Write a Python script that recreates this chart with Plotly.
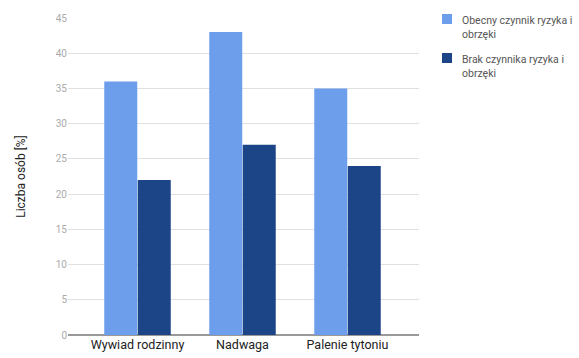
import plotly.graph_objects as go

categories = ["Wywiad rodzinny", "Nadwaga", "Palenie tytoniu"]
present = [36, 43, 35]
absent = [22, 27, 24]
series_names = ["Obecny czynnik ryzyka i<br>obrzęki", "Brak czynnika ryzyka i<br>obrzęki"]
series_colors = ["#6d9eeb", "#1c4587"]
y_ticks = [0, 5, 10, 15, 20, 25, 30, 35, 40, 45]

W, H = 579, 358
L, R, T, B = 68, 160, 18, 23
plot_w, plot_h = W - L - R, H - T - B
FONT = "Roboto"


def px_x(p):
    return (p - L) / plot_w


def px_y(p):
    return (H - B - p) / plot_h


xpos = list(range(len(categories)))

fig = go.Figure()
for vals, name, color in zip([present, absent], series_names, series_colors):
    fig.add_trace(go.Bar(x=xpos, y=vals, name=name, marker_color=color,
                         marker_line_width=0, showlegend=False))

# legend drawn as swatches + labels to the right of the plot
legend_rows = [14, 53]
for top, name, color in zip(legend_rows, series_names, series_colors):
    fig.add_shape(type="rect", xref="paper", yref="paper",
                  x0=px_x(442), x1=px_x(452), y0=px_y(top + 10), y1=px_y(top),
                  fillcolor=color, line_width=0)
    fig.add_annotation(xref="paper", yref="paper", x=px_x(460), y=px_y(top - 2),
                       xanchor="left", yanchor="top", align="left", showarrow=False,
                       text=name, font=dict(family=FONT, size=10.5, color="#555555"))

fig.update_layout(
    width=W, height=H,
    margin=dict(l=L, r=R, t=T, b=B, autoexpand=False),
    paper_bgcolor="white", plot_bgcolor="white",
    barmode="group", bargap=0.362, bargroupgap=0.015,
    font=dict(family=FONT, color="#222222"),
    xaxis=dict(tickmode="array", tickvals=xpos, ticktext=categories,
               range=[-0.662, 2.681], showgrid=False, zeroline=False,
               tickfont=dict(family=FONT, size=12.5, color="#222222"), ticks="",
               showline=False, automargin=False),
    yaxis=dict(range=[0, 45], tickvals=y_ticks, showgrid=True, gridcolor="#e0e0e0",
               gridwidth=1, zeroline=True, zerolinecolor="#999999", zerolinewidth=2,
               tickfont=dict(family=FONT, size=10, color="#aaaaaa"), ticks="",
               automargin=False,
               title=dict(text="Liczba osób [%]",
                          font=dict(family=FONT, size=12, color="#222222"),
                          standoff=27)),
)

fig.write_html("out.html")
